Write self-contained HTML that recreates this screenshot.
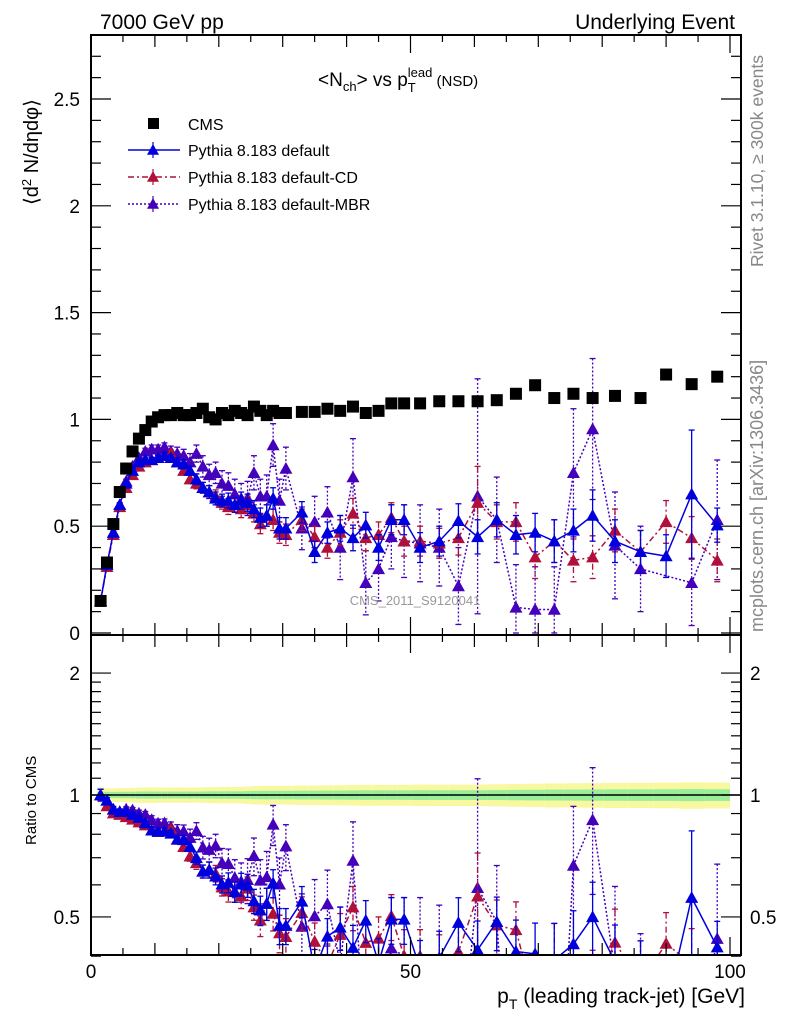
<!DOCTYPE html>
<html><head><meta charset="utf-8"><style>
html,body{margin:0;padding:0;background:#fff;width:786px;height:1024px;overflow:hidden;}
svg{display:block;font-family:"Liberation Sans",Arial,sans-serif;}
</style>
<script>
const pT = [1.5,2.5,3.5,4.5,5.5,6.5,7.5,8.5,9.5,10.5,11.5,12.5,13.5,14.5,15.5,16.5,17.5,18.5,19.5,20.5,21.5,22.5,23.5,24.5,25.5,26.5,27.5,28.5,29.5,30.5,33,35,37,39,41,43,45,47,49,51.5,54.5,57.5,60.5,63.5,66.5,69.5,72.5,75.5,78.5,82,86,90,94,98];
const cmsVals = [0.15,0.33,0.51,0.66,0.77,0.85,0.91,0.95,0.99,1.01,1.02,1.02,1.03,1.02,1.02,1.03,1.05,1.01,1.0,1.03,1.02,1.04,1.03,1.02,1.06,1.04,1.02,1.04,1.03,1.03,1.035,1.035,1.05,1.04,1.06,1.03,1.04,1.075,1.075,1.075,1.085,1.085,1.085,1.09,1.12,1.16,1.10,1.12,1.10,1.11,1.10,1.21,1.165,1.20];
const cmsErr = [0.003,0.006,0.009,0.012,0.014,0.016,0.018,0.019,0.02,0.02,0.02,0.02,0.02,0.02,0.02,0.02,0.021,0.021,0.021,0.022,0.022,0.022,0.022,0.023,0.025,0.025,0.025,0.025,0.025,0.025,0.026,0.026,0.027,0.027,0.028,0.028,0.028,0.029,0.029,0.03,0.03,0.03,0.03,0.031,0.033,0.035,0.034,0.035,0.035,0.036,0.036,0.04,0.04,0.04];
const defVals = [0.15,0.32,0.47,0.60,0.70,0.76,0.80,0.81,0.81,0.82,0.83,0.82,0.80,0.79,0.76,0.72,0.68,0.66,0.63,0.62,0.62,0.60,0.62,0.61,0.58,0.54,0.55,0.63,0.49,0.49,0.565,0.38,0.47,0.49,0.445,0.505,0.40,0.53,0.53,0.40,0.43,0.525,0.45,0.53,0.46,0.47,0.43,0.48,0.55,0.43,0.38,0.36,0.65,0.505];
const defErr = [0.005,0.005,0.005,0.008,0.008,0.01,0.01,0.01,0.012,0.012,0.015,0.015,0.02,0.02,0.02,0.025,0.025,0.03,0.03,0.03,0.035,0.035,0.04,0.04,0.04,0.045,0.05,0.05,0.05,0.05,0.05,0.05,0.05,0.06,0.06,0.06,0.06,0.07,0.07,0.07,0.07,0.08,0.08,0.08,0.09,0.09,0.1,0.1,0.12,0.1,0.1,0.1,0.3,0.08];
const cdVals = [0.15,0.31,0.46,0.59,0.68,0.74,0.78,0.80,0.81,0.82,0.83,0.84,0.80,0.76,0.72,0.70,0.68,0.66,0.64,0.61,0.59,0.60,0.58,0.60,0.56,0.51,0.55,0.53,0.47,0.46,0.53,0.45,0.40,0.47,0.56,0.445,0.46,0.54,0.43,0.43,0.42,0.445,0.61,0.52,0.52,0.355,0.43,0.34,0.355,0.48,0.38,0.52,0.445,0.34];
const cdErr = [0.005,0.005,0.005,0.008,0.008,0.01,0.01,0.01,0.012,0.012,0.015,0.015,0.02,0.02,0.02,0.025,0.025,0.03,0.03,0.03,0.035,0.035,0.04,0.04,0.04,0.045,0.05,0.05,0.05,0.05,0.05,0.05,0.05,0.06,0.07,0.06,0.06,0.07,0.07,0.07,0.07,0.08,0.17,0.08,0.09,0.1,0.1,0.1,0.1,0.1,0.1,0.1,0.1,0.1];
const mbrVals = [0.15,0.32,0.47,0.60,0.71,0.78,0.82,0.85,0.86,0.86,0.87,0.85,0.84,0.83,0.80,0.84,0.78,0.74,0.75,0.70,0.69,0.65,0.63,0.63,0.75,0.64,0.64,0.88,0.62,0.77,0.49,0.52,0.565,0.40,0.73,0.235,0.30,0.45,0.43,0.42,0.40,0.22,0.64,0.53,0.12,0.11,0.11,0.75,0.955,0.41,0.30,null,0.235,0.53];
const mbrErr = [0.005,0.005,0.008,0.01,0.01,0.012,0.015,0.015,0.02,0.02,0.02,0.025,0.03,0.03,0.04,0.04,0.05,0.05,0.05,0.06,0.06,0.07,0.07,0.08,0.08,0.08,0.1,0.1,0.1,0.1,0.1,0.12,0.12,0.15,0.18,0.15,0.15,0.15,0.17,0.18,0.18,0.18,0.55,0.2,0.2,0.2,0.2,0.3,0.33,0.25,0.2,0.2,0.2,0.28];
const mainTicks = [0,0.5,1,1.5,2,2.5];
const mainTickLabels = ["0","0.5","1","1.5","2","2.5"];
const ratioTicks = [0.5,1,2];
const ratioTickLabels = ["0.5","1","2"];
const xTicks = [0,50,100];
const xTickLabels = ["0","50","100"];

const NS="http://www.w3.org/2000/svg";
const L=91,R=741,TOP=35,MID=635,BOT=955;
const X0=91, XS=6.39;
const xS = v => X0 + v*XS;
const yM = v => 633 - v*213.6;
const yR = v => 795 - Math.log10(v)*405;
const clampY = (y,t,b) => Math.min(b,Math.max(t,y));
function el(tag, attrs, parent){const e=document.createElementNS(NS,tag);for(const k in attrs)e.setAttribute(k,attrs[k]);parent.appendChild(e);return e;}
function tri(g,x,y,c,s){el('polygon',{points:`${x},${y-s} ${x-s},${y+s*0.8} ${x+s},${y+s*0.8}`,fill:c},g);}
// clip polyline segments to [t,b] vertically
function clippedPath(pts,t,b){
  let d='';
  for(let i=0;i<pts.length-1;i++){
    let [x1,y1]=pts[i],[x2,y2]=pts[i+1];
    let t0=0,t1=1; const dy=y2-y1;
    if(dy!==0){
      const ta=(t-y1)/dy, tb=(b-y1)/dy;
      t0=Math.max(t0,Math.min(ta,tb)); t1=Math.min(t1,Math.max(ta,tb));
    } else if(y1<t||y1>b) continue;
    if(t0>t1) continue;
    const ax=x1+(x2-x1)*t0, ay=y1+dy*t0, bx=x1+(x2-x1)*t1, by=y1+dy*t1;
    d+=`M${ax},${ay}L${bx},${by}`;
  }
  return d||'M0,0';
}

function draw(){
const axes=document.getElementById('axes'), marks=document.getElementById('marks'), bands=document.getElementById('bands'), legend=document.getElementById('legend');

for(let i=0;i<pT.length;i++){
  const lo = i===0 ? pT[0]-0.5 : (pT[i-1]+pT[i])/2;
  const hi = i===pT.length-1 ? pT[i]+2 : (pT[i]+pT[i+1])/2;
  const rel = cmsErr[i]/cmsVals[i];
  const ry = el('rect',{x:xS(lo),width:xS(hi)-xS(lo),y:yR(1+rel*2.2),height:yR(1-rel*2.2)-yR(1+rel*2.2),fill:'#f8f8a0'},bands);
  
  
  const rg = el('rect',{x:xS(lo),width:xS(hi)-xS(lo),y:yR(1+rel),height:yR(1-rel)-yR(1+rel),fill:'#99ee99'},bands);
  
  
}
const refLine = el('line',{x1:L,x2:R,y1:yR(1),y2:yR(1),stroke:'#000','stroke-width':1.5},bands);



const series=[
 {name:'default',vals:defVals,err:defErr,color:'#0000dd',dash:'',label:'Pythia 8.183 default'},
 {name:'default-cd',vals:cdVals,err:cdErr,color:'#b0103a',dash:'6,3,2,3',label:'Pythia 8.183 default-CD'},
 {name:'default-mbr',vals:mbrVals,err:mbrErr,color:'#4400bb',dash:'2,2',label:'Pythia 8.183 default-MBR'}
];
const gMain = el('g',{'clip-path':'url(#clipMain)'},marks);
const gRatio = el('g',{'clip-path':'url(#clipRatio)'},marks);
series.slice().reverse().forEach(s=>{
  const g=el('g',{},gMain);
  
  
  const gr=el('g',{},gRatio);
  
  
  const pm=[], pr=[];
  s.vals.forEach((v,i)=>{ if(v===null) return;
    pm.push([xS(pT[i]),yM(v)]); pr.push([xS(pT[i]),yR(v/cmsVals[i])]);});
  el('path',{d:clippedPath(pm,TOP,MID),fill:'none',stroke:s.color,'stroke-width':1.5,'stroke-dasharray':s.dash},g);
  el('path',{d:clippedPath(pr,MID,BOT),fill:'none',stroke:s.color,'stroke-width':1.5,'stroke-dasharray':s.dash},gr);
  s.vals.forEach((v,i)=>{ if(v===null) return;
    const x=xS(pT[i]), e=s.err[i], r=v/cmsVals[i], er=e/cmsVals[i];
    [[g,yM(v+e),yM(v),yM(Math.max(v-e,0)),TOP,MID],[gr,yR(r+er),yR(r),yR(Math.max(r-er,0.2)),MID,BOT]].forEach(([gg,yt,yc,yb,t,b])=>{
      if(yt>b) return;
      const ytc=clampY(yt,t,b), ybc=clampY(yb,t,b);
      el('line',{x1:x,x2:x,y1:ytc,y2:ybc,stroke:s.color,'stroke-width':1.3,'stroke-dasharray':s.dash},gg);
      if(yt>=t) el('line',{x1:x-3,x2:x+3,y1:yt,y2:yt,stroke:s.color,'stroke-width':1.3},gg);
      if(yb<=b) el('line',{x1:x-3,x2:x+3,y1:yb,y2:yb,stroke:s.color,'stroke-width':1.3},gg);
      if(yc<=b+4 && yc>=t-4) tri(gg,x,yc,s.color,6.5);
    });
  });
});
const gC=el('g',{},gMain);


cmsVals.forEach((v,i)=>{
  const r = el('rect',{x:xS(pT[i])-6,y:yM(v)-6,width:12,height:12,fill:'#000'},gC);
  
  
});

[[TOP,MID],[MID,BOT]].forEach(([t,b])=>el('rect',{x:L,y:t,width:R-L,height:b-t,fill:'none',stroke:'#000','stroke-width':2},axes));
for(let v=0;v<=100;v+=5){
  const len = v%50===0?18:(v%10===0?12:7);
  [MID,BOT].forEach(b=>{ el('line',{x1:xS(v),x2:xS(v),y1:b,y2:b-len,stroke:'#000','stroke-width':1.2},axes);});
  [TOP,MID].forEach(t=>{ el('line',{x1:xS(v),x2:xS(v),y1:t,y2:t+len,stroke:'#000','stroke-width':1.2},axes);});
}
xTicks.forEach((v,i)=>{const t=el('text',{x:xS(v),y:978,'font-size':19,'text-anchor':'middle'},axes);t.textContent=xTickLabels[i];
  
  });
for(let k=0;k<=27;k++){const v=k/10, y=yM(v), len=k%5===0?20:10;
  el('line',{x1:L,x2:L+len,y1:y,y2:y,stroke:'#000','stroke-width':1.2},axes);
  el('line',{x1:R,x2:R-len,y1:y,y2:y,stroke:'#000','stroke-width':1.2},axes);}
mainTicks.forEach((v,i)=>{const t=el('text',{x:80,y:yM(v)+7,'font-size':19,'text-anchor':'end'},axes);t.textContent=mainTickLabels[i];
  
  });
[0.4,0.5,0.6,0.7,0.8,0.9,1,1.1,1.2,1.3,1.4,1.5,1.6,1.7,1.8,1.9,2].forEach(v=>{const y=yR(v), len=(v===0.5||v===1||v===2)?20:10;
  el('line',{x1:L,x2:L+len,y1:y,y2:y,stroke:'#000','stroke-width':1.2},axes);
  el('line',{x1:R,x2:R-len,y1:y,y2:y,stroke:'#000','stroke-width':1.2},axes);});
ratioTicks.forEach((v,i)=>{
  const t=el('text',{x:80,y:yR(v)+7,'font-size':19,'text-anchor':'end'},axes);t.textContent=ratioTickLabels[i];
  
  
  const t2=el('text',{x:750,y:yR(v)+7,'font-size':19},axes);t2.textContent=ratioTickLabels[i];
  
  });

const le=el('g',{},legend);


el('rect',{x:148,y:118,width:11,height:11,fill:'#000'},le);
const lt=el('text',{x:188,y:130,'font-size':16},le); lt.textContent='CMS';
series.forEach((s,i)=>{
  const y=150+i*27;
  const g=el('g',{},legend);
  
  
  el('line',{x1:128,x2:180,y1:y,y2:y,stroke:s.color,'stroke-width':1.5,'stroke-dasharray':s.dash},g);
  el('line',{x1:153,x2:153,y1:y-8,y2:y+8,stroke:s.color,'stroke-width':1.2},g);
  tri(g,153,y,s.color,6);
  const t=el('text',{x:188,y:y+6,'font-size':16},g); t.textContent=s.label;
});
}
document.addEventListener('DOMContentLoaded', draw);
</script>
</head><body>
<svg id="chart" width="786" height="1024" viewBox="0 0 786 1024" xmlns="http://www.w3.org/2000/svg" overflow="hidden">
<defs>
<clipPath id="clipMain"><rect x="91" y="35" width="650" height="600"/></clipPath>
<clipPath id="clipRatio"><rect x="91" y="635" width="650" height="320"/></clipPath>
</defs>
<g id="bands"></g>
<g id="marks"></g>
<g id="axes"></g>
<text x="100" y="29" font-size="21">7000 GeV pp</text>
<text x="735" y="29" font-size="21" text-anchor="end">Underlying Event</text>
<text x="318" y="86" font-size="19">&lt;N<tspan font-size="13" dy="5">ch</tspan><tspan dy="-5">&gt; vs p</tspan><tspan font-size="13" dy="6">T</tspan><tspan font-size="13" dx="-8" dy="-15">lead</tspan><tspan font-size="15" dy="9"> (NSD)</tspan></text>
<text transform="translate(38,205) rotate(-90)" font-size="20">⟨d<tspan font-size="13" dy="-7">2</tspan><tspan dy="7"> N/dηdφ⟩</tspan></text>
<text transform="translate(36,845) rotate(-90)" font-size="15">Ratio to CMS</text>
<text x="745" y="1003" font-size="21" text-anchor="end">p<tspan font-size="14" dy="6">T</tspan><tspan dy="-6"> (leading track-jet) [GeV]</tspan></text>
<text transform="translate(763,267) rotate(-90)" font-size="17.5" fill="#888">Rivet 3.1.10, ≥ 300k events</text>
<text transform="translate(763,632) rotate(-90)" font-size="18" fill="#888">mcplots.cern.ch [arXiv:1306.3436]</text>
<text x="415" y="605" font-size="13" fill="#999" text-anchor="middle">CMS_2011_S9120041</text>
<g id="legend"></g>
</svg>
</body></html>
